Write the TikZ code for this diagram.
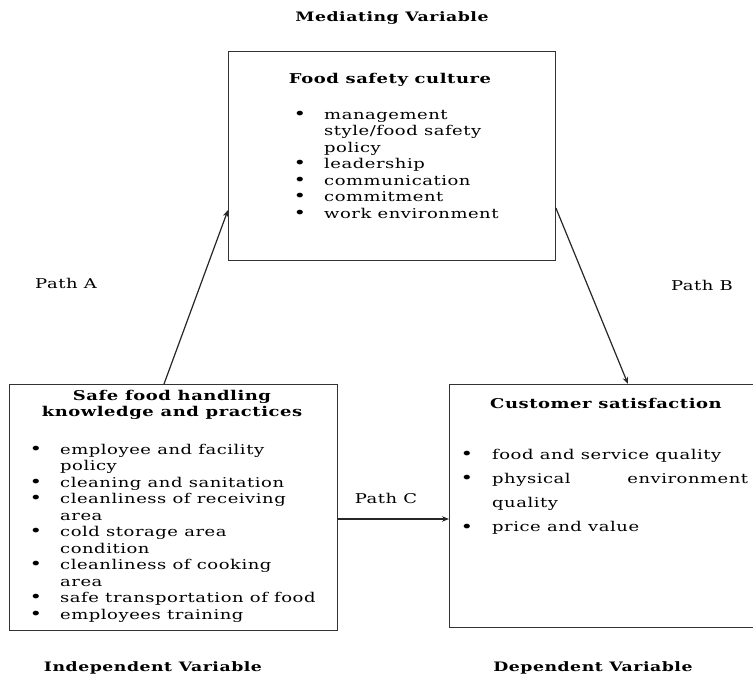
\documentclass[tikz,border=0pt]{standalone}
\usepackage{fontspec}
\setmainfont{DejaVu Serif}[FakeStretch=1.33, LetterSpace=4]
\usetikzlibrary{arrows.meta}
\newcommand{\bul}{\raisebox{-0.3pt}{\fontsize{16}{16}\selectfont\textbullet}}
\begin{document}
\begin{tikzpicture}[x=1pt,y=-1pt,
  box/.style={draw=black!80, line width=0.9pt, anchor=north west, inner sep=0pt},
  lbl/.style={font=\fontsize{13.5}{14}\selectfont, inner sep=0pt},
  vlbl/.style={font=\bfseries\fontsize{13}{14}\selectfont, inner sep=0pt},
  head/.style={font=\bfseries\fontsize{13.5}{16.5}\selectfont, inner sep=0pt, align=center},
  lst/.style={font=\fontsize{13.5}{16.5}\selectfont, inner sep=0pt, anchor=base west, align=left},
  conn/.style={line width=1.2pt, draw=black!85, -{Stealth[length=7pt,width=5.5pt]}}]
\useasboundingbox (0,0) rectangle (753,680);
\clip (0,0) rectangle (753,680);
% boxes
\node[box, minimum width=327pt, minimum height=209pt] (med) at (228,51) {};
\node[box, minimum width=328pt, minimum height=246pt] (ind) at (9,384) {};
\node[box, minimum width=330pt, minimum height=243pt] (dep) at (449,384) {};
% headings
\node[vlbl] (medv) at (392,18) {Mediating Variable};
\node[vlbl] (indv) at (153,668) {Independent Variable};
\node[vlbl] (depv) at (593,668) {Dependent Variable};
\node[lbl] (pa) at (66,283) {Path A};
\node[lbl] (pb) at (702,285) {Path B};
\node[lbl] (pc) at (386,498) {Path C};
% box contents
\node[head] (medt) at (390,80) {Food safety culture};
\node[lst] (medl) at (293.5,119) {\begin{tabular}[t]{@{}p{30.5pt}@{}l@{}}
\bul & management\\
 & style/food safety\\
 & policy\\
\bul & leadership\\
\bul & communication\\
\bul & commitment\\
\bul & work environment
\end{tabular}};
\node[head] (indt) at (172,405) {Safe food handling\\knowledge and practices};
\node[lst] (indl) at (29.5,454) {\begin{tabular}[t]{@{}p{30.5pt}@{}l@{}}
\bul & employee and facility\\
 & policy\\
\bul & cleaning and sanitation\\
\bul & cleanliness of receiving\\
 & area\\
\bul & cold storage area\\
 & condition\\
\bul & cleanliness of cooking\\
 & area\\
\bul & safe transportation of food\\
\bul & employees training
\end{tabular}};
\node[head, anchor=base west] (dept) at (490,408) {Customer satisfaction};
\node[lst, font=\fontsize{13.5}{24.3}\selectfont] (depl) at (460.5,459) {\begin{tabular}[t]{@{}p{31.5pt}@{}p{256pt}@{}}
\bul & food and service quality\\
\bul & physical\hfill environment\\
 & quality\\
\bul & price and value
\end{tabular}};
% connectors
\draw[conn] ([xshift=155pt]ind.north west) -- ([yshift=-159pt]med.north west);
\draw[conn] ([yshift=-157pt]med.north east) -- ([xshift=179pt]dep.north west);
\draw[conn] ([yshift=-135pt]ind.north east) -- ([yshift=-135pt]dep.north west);
\end{tikzpicture}
\end{document}
